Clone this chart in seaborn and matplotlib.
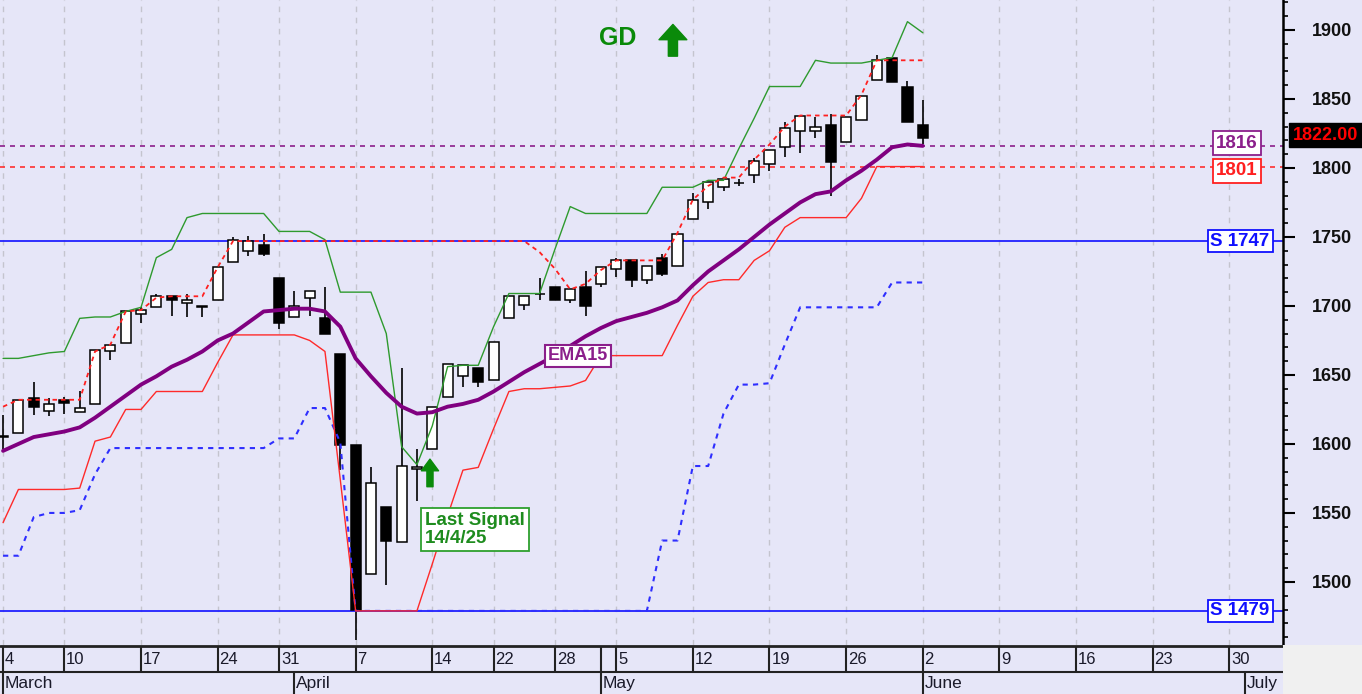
import numpy as np
import pandas as pd
import seaborn as sns
import matplotlib.pyplot as plt
from matplotlib.patches import Rectangle
from matplotlib.ticker import MultipleLocator

# --- dane (indeks = kolejna sesja od 4 marca) ---
opens = [1606, 1608, 1633, 1624, 1632, 1623, 1629, 1667, 1673, 1694,
         1699, 1707, 1702, 1700, 1704, 1732, 1740, 1744, 1720, 1692,
         1706, 1691, 1665, 1599, 1506, 1554, 1529, 1582, 1596, 1634,
         1649, 1655, 1646, 1691, 1701, 1709, 1714, 1704, 1714, 1716,
         1727, 1733, 1719, 1735, 1729, 1763, 1775, 1786, 1789, 1795,
         1803, 1815, 1827, 1827, 1831, 1819, 1835, 1864, 1880, 1859,
         1831]
highs = [1621, 1632, 1645, 1633, 1634, 1638, 1668, 1672, 1696, 1699,
         1709, 1707, 1709, 1700, 1728, 1750, 1751, 1752, 1720, 1711,
         1711, 1714, 1665, 1599, 1583, 1554, 1655, 1596, 1627, 1658,
         1657, 1655, 1674, 1707, 1707, 1720, 1714, 1712, 1725, 1728,
         1735, 1733, 1729, 1738, 1752, 1782, 1790, 1792, 1792, 1807,
         1813, 1833, 1838, 1837, 1839, 1837, 1852, 1882, 1880, 1863,
         1849]
lows = [1596, 1608, 1621, 1620, 1622, 1623, 1629, 1661, 1673, 1688,
        1699, 1693, 1692, 1692, 1704, 1732, 1736, 1736, 1683, 1692,
        1693, 1680, 1581, 1458, 1506, 1498, 1529, 1559, 1596, 1634,
        1641, 1641, 1646, 1691, 1697, 1704, 1704, 1702, 1693, 1714,
        1721, 1714, 1716, 1722, 1729, 1763, 1770, 1783, 1787, 1789,
        1798, 1808, 1811, 1822, 1780, 1819, 1835, 1864, 1862, 1833,
        1817]
closes = [1605, 1632, 1627, 1629, 1630, 1626, 1668, 1672, 1696, 1697,
          1707, 1704, 1704, 1699, 1728, 1748, 1747, 1738, 1688, 1700,
          1711, 1680, 1599, 1480, 1572, 1530, 1584, 1583, 1627, 1658,
          1657, 1645, 1674, 1707, 1707, 1709, 1704, 1712, 1700, 1728,
          1733, 1719, 1729, 1723, 1752, 1777, 1790, 1792, 1789, 1805,
          1813, 1829, 1838, 1830, 1804, 1837, 1852, 1878, 1862, 1833,
          1822]

ema15 = [1595, 1600, 1605, 1607, 1609, 1612, 1619, 1627, 1635, 1643,
         1649, 1656, 1661, 1667, 1675, 1680, 1688, 1696, 1697, 1698,
         1698, 1696, 1685, 1662, 1649, 1637, 1627, 1622, 1623, 1627,
         1629, 1632, 1638, 1645, 1652, 1658, 1664, 1671, 1678, 1684,
         1689, 1692, 1695, 1699, 1704, 1715, 1725, 1733, 1741, 1750,
         1759, 1767, 1775, 1781, 1783, 1791, 1798, 1806, 1815, 1817,
         1816]
upper_green = [1662, 1662, 1664, 1666, 1667, 1691, 1692, 1692, 1696, 1699,
               1735, 1741, 1764, 1767, 1767, 1767, 1767, 1767, 1754, 1754,
               1754, 1748, 1710, 1710, 1710, 1680, 1598, 1585, 1613, 1656,
               1657, 1657, 1685, 1709, 1709, 1709, 1741, 1772, 1767, 1767,
               1767, 1767, 1767, 1786, 1786, 1786, 1791, 1791, 1814, 1836,
               1859, 1859, 1859, 1878, 1876, 1876, 1876, 1878, 1880, 1906,
               1898]
stop_red = [1543, 1567, 1567, 1567, 1567, 1568, 1602, 1605, 1625, 1625,
            1638, 1638, 1638, 1638, 1659, 1679, 1679, 1679, 1679, 1679,
            1675, 1667, 1574, 1479, 1479, 1479, 1479, 1479, 1513, 1548,
            1581, 1583, 1611, 1638, 1640, 1640, 1641, 1642, 1646, 1664,
            1664, 1664, 1664, 1664, 1686, 1707, 1717, 1719, 1719, 1733,
            1740, 1757, 1764, 1764, 1764, 1764, 1778, 1801, 1801, 1801,
            1801]
trail_red = [1627, 1632, 1632, 1632, 1632, 1632, 1667, 1672, 1696, 1697,
             1706, 1707, 1707, 1707, 1728, 1747, 1747, 1747, 1747, 1747,
             1747, 1747, 1747, 1747, 1747, 1747, 1747, 1747, 1747, 1747,
             1747, 1747, 1747, 1747, 1747, 1739, 1727, 1712, 1716, 1726,
             1733, 1733, 1733, 1733, 1753, 1777, 1787, 1793, 1793, 1806,
             1817, 1830, 1838, 1838, 1838, 1838, 1853, 1878, 1878, 1878,
             1878]
lower_blue = [1519, 1519, 1547, 1550, 1550, 1552, 1578, 1597, 1597, 1597,
              1597, 1597, 1597, 1597, 1597, 1597, 1597, 1597, 1604, 1604,
              1626, 1626, 1601, 1479, 1479, 1479, 1479, 1479, 1479, 1479,
              1479, 1479, 1479, 1479, 1479, 1479, 1479, 1479, 1479, 1479,
              1479, 1479, 1479, 1530, 1530, 1584, 1584, 1622, 1643, 1643,
              1644, 1672, 1699, 1699, 1699, 1699, 1699, 1699, 1717, 1717,
              1717]

support_levels = [1747, 1479]
ema_last = 1816
stop_last = 1801

week_labels = ['4', '10', '17', '24', '31', '7', '14', '22', '28', '5', '12',
               '19', '26', '2', '9', '16', '23', '30']
week_pos = [0, 4, 9, 14, 18, 23, 28, 32, 36, 40, 45, 50, 55, 60, 65, 70, 75, 80]
month_labels = ['March', 'April', 'May', 'June', 'July']
month_pos = [0, 19, 39, 60, 81]

# --- styl ---
sns.set_style("white")
plt.rcParams['font.family'] = ['Liberation Sans', 'DejaVu Sans']

BG = '#E6E6F8'
PURPLE = '#8B1F8B'
GREEN = '#0A8A0A'
W, H = 1362, 694

fig = plt.figure(figsize=(W / 100, H / 100), dpi=100, facecolor=BG)
ax = fig.add_axes([0, 49 / H, 1283 / W, 645 / H])
axd = fig.add_axes([0, 0, 1283 / W, 49 / H])
fig.add_artist(Rectangle((1283 / W, 0), 1 - 1283 / W, 49 / H, transform=fig.transFigure,
                         facecolor='#F0F0F0', edgecolor='none'))

ax.set_facecolor(BG)
ax.set_xlim(-0.2, 83.5)
ax.set_ylim(1454.3, 1921.7)

df = pd.DataFrame({'idx': np.arange(len(closes)), 'open': opens, 'high': highs,
                   'low': lows, 'close': closes, 'ema': ema15, 'green': upper_green,
                   'red': stop_red, 'trail': trail_red, 'blue': lower_blue})

# siatka pionowa (początki tygodni)
for p in week_pos:
    ax.axvline(p, color='#C4C4CE', lw=1.0, ls=(0, (4, 4)), zorder=0.5)

# poziomy
for lvl in support_levels:
    ax.axhline(lvl, color='#2020FF', lw=1.3, zorder=1)
ax.axhline(ema_last, color=PURPLE, lw=1.2, ls=(0, (3, 3)), zorder=1)
ax.axhline(stop_last, color='#FF3030', lw=1.2, ls=(0, (3, 3)), zorder=1)

# świece
bottoms = np.minimum(df['open'], df['close'])
heights = np.abs(df['close'] - df['open'])
colors = ['white' if c > o else 'black' for o, c in zip(df['open'], df['close'])]
ax.vlines(df['idx'], df['low'], df['high'], color='black', lw=1.2, zorder=2)
ax.bar(df['idx'], heights, bottom=bottoms, width=0.66, color=colors,
       edgecolor='black', linewidth=1.1, zorder=2.2)

# wskaźniki
sns.lineplot(data=df, x='idx', y='blue', ax=ax, color='#2E2EFF', lw=1.5,
             linestyle=(0, (2.5, 2.5)), zorder=3)
sns.lineplot(data=df, x='idx', y='red', ax=ax, color='#FF2A2A', lw=1.0, zorder=3)
sns.lineplot(data=df, x='idx', y='trail', ax=ax, color='#FF2020', lw=1.3,
             linestyle=(0, (2.5, 2.2)), zorder=3.1)
sns.lineplot(data=df, x='idx', y='green', ax=ax, color='#2E9A2E', lw=1.0, zorder=3)
sns.lineplot(data=df, x='idx', y='ema', ax=ax, color='#800080', lw=2.8, zorder=3.5)
ax.set_xlabel('')
ax.set_ylabel('')

# oś y po prawej
for s in ['left', 'top', 'bottom']:
    ax.spines[s].set_visible(False)
ax.spines['right'].set_color('black')
ax.spines['right'].set_linewidth(1.8)
ax.set_xticks([])
ax.yaxis.tick_right()
ax.set_yticks(range(1500, 1901, 50))
ax.yaxis.set_minor_locator(MultipleLocator(10))
ax.tick_params(axis='y', which='major', length=8.5, width=1.5, pad=12, labelsize=13,
               colors='black')
ax.tick_params(axis='y', which='minor', length=3.6, width=1.2, colors='black')
for lab in ax.get_yticklabels():
    lab.set_fontweight('bold')
    lab.set_color('#111111')

# etykiety poziomów
lbl_x = 80.5
ax.text(lbl_x, ema_last + 2, f'{ema_last}', color=PURPLE, fontsize=13.5, fontweight='bold',
        ha='center', va='center', zorder=6,
        bbox=dict(boxstyle='square,pad=0.18', fc='white', ec=PURPLE, lw=1.3))
ax.text(lbl_x, stop_last - 3, f'{stop_last}', color='#FF2020', fontsize=13.5, fontweight='bold',
        ha='center', va='center', zorder=6,
        bbox=dict(boxstyle='square,pad=0.18', fc='white', ec='#FF2020', lw=1.3))
for lvl in support_levels:
    ax.text(lbl_x + 0.2, lvl, f'S {lvl}', color='#1010FF', fontsize=13.5, fontweight='bold',
            ha='center', va='center', zorder=6,
            bbox=dict(boxstyle='square,pad=0.15', fc='white', ec='#1010FF', lw=1.3))

# ostatni kurs (w oryginale ucięty przy krawędzi, tu zmieszczony)
fig.text(1293 / W, 1 - 135 / H, f'{closes[-1]:.2f}', color='#FF0000', fontsize=13,
         fontweight='bold', ha='left', va='center',
         bbox=dict(boxstyle='square,pad=0.2', fc='black', ec='black'))

# EMA15, sygnały
ax.text(37.5, 1664, 'EMA15', color=PURPLE, fontsize=13, fontweight='bold', ha='center',
        va='center', zorder=6,
        bbox=dict(boxstyle='square,pad=0.14', fc='white', ec=PURPLE, lw=1.5))
ax.text(40.1, 1894, 'GD', color=GREEN, fontsize=18, fontweight='bold', ha='center',
        va='center', zorder=6)
ax.annotate('', xy=(43.7, 1904), xytext=(43.7, 1881),
            arrowprops=dict(arrowstyle='simple,head_width=1.0,head_length=0.55,tail_width=0.33',
                            mutation_scale=20, color=GREEN, shrinkA=0, shrinkB=0), zorder=6)
ax.annotate('', xy=(27.85, 1589), xytext=(27.85, 1569),
            arrowprops=dict(arrowstyle='simple,head_width=0.62,head_length=0.42,tail_width=0.22',
                            mutation_scale=20, color=GREEN, shrinkA=0, shrinkB=0), zorder=6)
ax.text(27.55, 1538, 'Last Signal\n14/4/25', color='#1E8C1E', fontsize=13.5, fontweight='bold',
        ha='left', va='center', linespacing=1.1, zorder=6,
        bbox=dict(boxstyle='square,pad=0.22', fc='white', ec='#2EA02E', lw=1.3))

# pasek dat
axd.set_facecolor(BG)
axd.set_xlim(-0.2, 83.5)
axd.set_ylim(49, 0)
axd.axis('off')
axd.add_patch(Rectangle((-0.2, 0), 83.7, 49, facecolor=BG, edgecolor='none', zorder=0))
axd.axhline(1.0, color='#222222', lw=2.0)
axd.axhline(26.5, color='#222222', lw=1.5)
axd.vlines(week_pos + [month_pos[2]], 1.0, 26.5, color='#222222', lw=1.5)
axd.vlines(month_pos, 26.5, 49, color='#222222', lw=1.5)
for p, t in zip(week_pos, week_labels):
    axd.text(p + 0.12, 14, t, fontsize=12, color='#1A1A2A', ha='left', va='center')
for p, t in zip(month_pos, month_labels):
    axd.text(p + 0.12, 38.5, t, fontsize=12.5, color='#1A1A2A', ha='left', va='center')

fig.savefig('out.png', dpi=100, facecolor=fig.get_facecolor())
